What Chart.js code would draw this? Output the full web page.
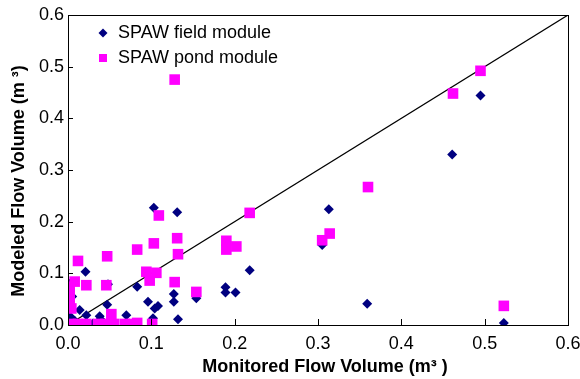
<!DOCTYPE html>
<html>
<head>
<meta charset="utf-8">
<script src="https://cdn.jsdelivr.net/npm/chart.js@4.4.1/dist/chart.umd.min.js"></script>
<style>
  html, body { margin: 0; padding: 0; background: #fff; }
  #wrap { width: 580px; height: 379px; }
</style>
</head>
<body>
<div id="wrap"><canvas id="chart" width="580" height="379"></canvas></div>
<script>
// SPAW field module (rombos azules)
const fieldX = [0.495, 0.461, 0.313, 0.305, 0.359, 0.523, 0.218, 0.189, 0.189, 0.201,
  0.154, 0.103, 0.131, 0.021, 0.048, 0.083, 0.127, 0.127, 0.096, 0.108,
  0.104, 0.047, 0.022, 0.038, 0.039, 0.070, 0.102, 0.132, 0.002, 0.003,
  0.014, 0.008, 0.002, 0.005, 0.030, 0.000];
const fieldY = [0.444, 0.330, 0.224, 0.155, 0.041, 0.004, 0.106, 0.073, 0.063, 0.063,
  0.052, 0.227, 0.218, 0.103, 0.079, 0.074, 0.060, 0.045, 0.045, 0.037,
  0.032, 0.039, 0.019, 0.017, 0.011, 0.019, 0.013, 0.011, 0.045, 0.016,
  0.029, 0.008, 0.080, 0.055, 0.003, 0.002];

// SPAW pond module (cuadrados magenta)
const pondX = [0.495, 0.462, 0.523, 0.360, 0.314, 0.305, 0.218, 0.190, 0.202, 0.190,
  0.154, 0.128, 0.109, 0.131, 0.103, 0.132, 0.047, 0.083, 0.012, 0.094,
  0.106, 0.098, 0.128, 0.046, 0.022, 0.008, 0.002, 0.002, 0.002, 0.004,
  0.052, 0.003, 0.012, 0.022, 0.036, 0.045, 0.055, 0.068, 0.078, 0.101,
  0.083];
const pondY = [0.492, 0.448, 0.037, 0.267, 0.177, 0.164, 0.217, 0.163, 0.152, 0.146,
  0.064, 0.475, 0.212, 0.168, 0.158, 0.137, 0.133, 0.146, 0.124, 0.103,
  0.101, 0.086, 0.083, 0.077, 0.077, 0.084, 0.074, 0.062, 0.045, 0.032,
  0.021, 0.002, 0.002, 0.002, 0.002, 0.002, 0.002, 0.002, 0.002, 0.002,
  0.004];

// Línea 1:1
const lineX = [0, 0.6];
const lineY = [0, 0.6];

const xTicks = [0, 0.1, 0.2, 0.3, 0.4, 0.5, 0.6];
const yTicks = [0, 0.1, 0.2, 0.3, 0.4, 0.5, 0.6];

const tituloX = 'Monitored Flow Volume (m³ )';
const tituloY = 'Modeled Flow Volume (m ³)';

function puntos(xs, ys) {
  return xs.map((x, i) => ({ x: x, y: ys[i] }));
}

const FONT = 'Liberation Sans, Arial, sans-serif';

// Marco, marcas interiores, títulos y leyenda
const marcoPlugin = {
  id: 'marco',
  afterDraw(chart) {
    const ctx = chart.ctx;
    const a = chart.chartArea;
    const sx = chart.scales.x;
    const sy = chart.scales.y;
    ctx.save();
    ctx.strokeStyle = '#000';
    ctx.lineWidth = 1;
    ctx.strokeRect(Math.round(a.left) + 0.5, Math.round(a.top) + 0.5,
      Math.round(a.right - a.left), Math.round(a.bottom - a.top));
    ctx.beginPath();
    for (let i = 1; i < xTicks.length - 1; i++) {
      const px = Math.round(sx.getPixelForValue(xTicks[i])) + 0.5;
      ctx.moveTo(px, a.bottom);
      ctx.lineTo(px, a.bottom - 6);
    }
    for (let i = 1; i < yTicks.length - 1; i++) {
      const py = Math.round(sy.getPixelForValue(yTicks[i])) + 0.5;
      ctx.moveTo(a.left, py);
      ctx.lineTo(a.left + 5, py);
    }
    ctx.stroke();

    // títulos de ejes
    ctx.fillStyle = '#000';
    ctx.font = 'bold 18px ' + FONT;
    ctx.textAlign = 'center';
    ctx.textBaseline = 'middle';
    ctx.fillText(tituloX, 325, 367);
    ctx.save();
    ctx.translate(19, 181);
    ctx.rotate(-Math.PI / 2);
    ctx.fillText(tituloY, 0, 0);
    ctx.restore();

    // leyenda
    ctx.font = '18px ' + FONT;
    ctx.textAlign = 'left';
    const ds = chart.data.datasets;
    const items = [ds[1], ds[0]];
    items.forEach((d, i) => {
      const cy = 33 + i * 25;
      const cx = 103;
      ctx.fillStyle = d.backgroundColor;
      ctx.beginPath();
      if (d.pointStyle === 'rectRot') {
        ctx.moveTo(cx, cy - 4.5);
        ctx.lineTo(cx + 4.5, cy);
        ctx.lineTo(cx, cy + 4.5);
        ctx.lineTo(cx - 4.5, cy);
      } else {
        ctx.rect(cx - 4, cy - 4, 8, 8);
      }
      ctx.fill();
      ctx.fillStyle = '#000';
      ctx.fillText(d.label, 118, cy);
    });
    ctx.restore();
  }
};

new Chart(document.getElementById('chart'), {
  type: 'scatter',
  data: {
    datasets: [
      {
        label: 'SPAW pond module',
        data: puntos(pondX, pondY),
        pointStyle: 'rect',
        pointRadius: 7.5,
        backgroundColor: '#ff00ff',
        borderColor: '#ff00ff',
        borderWidth: 0,
        order: 1
      },
      {
        label: 'SPAW field module',
        data: puntos(fieldX, fieldY),
        pointStyle: 'rectRot',
        pointRadius: 5,
        backgroundColor: '#000080',
        borderColor: '#000080',
        borderWidth: 0,
        order: 2
      },
      {
        type: 'line',
        label: '1:1',
        data: puntos(lineX, lineY),
        borderColor: '#000',
        borderWidth: 1.2,
        pointRadius: 0,
        fill: false,
        order: 3
      }
    ]
  },
  options: {
    responsive: false,
    animation: false,
    layout: { padding: { left: 0, top: 15, right: 12, bottom: 0 } },
    plugins: {
      legend: { display: false },
      tooltip: { enabled: false }
    },
    scales: {
      x: {
        type: 'linear',
        min: 0,
        max: 0.6,
        afterFit: (s) => { s.height = 54; s.paddingLeft = 0; s.paddingRight = 0; },
        afterBuildTicks: (s) => { s.ticks = xTicks.map(v => ({ value: v })); },
        grid: { display: false, drawTicks: false },
        border: { display: false },
        ticks: {
          color: '#000',
          padding: 8,
          maxRotation: 0,
          font: { family: FONT, size: 18 },
          callback: (v) => Number(v).toFixed(1)
        },
        title: { display: false }
      },
      y: {
        type: 'linear',
        min: 0,
        max: 0.6,
        afterFit: (s) => { s.width = 68; s.paddingTop = 0; s.paddingBottom = 0; },
        afterBuildTicks: (s) => { s.ticks = yTicks.map(v => ({ value: v })); },
        grid: { display: false, drawTicks: false },
        border: { display: false },
        ticks: {
          color: '#000',
          padding: 4,
          font: { family: FONT, size: 18 },
          callback: (v) => Number(v).toFixed(1)
        },
        title: { display: false }
      }
    }
  },
  plugins: [marcoPlugin]
});
</script>
</body>
</html>
